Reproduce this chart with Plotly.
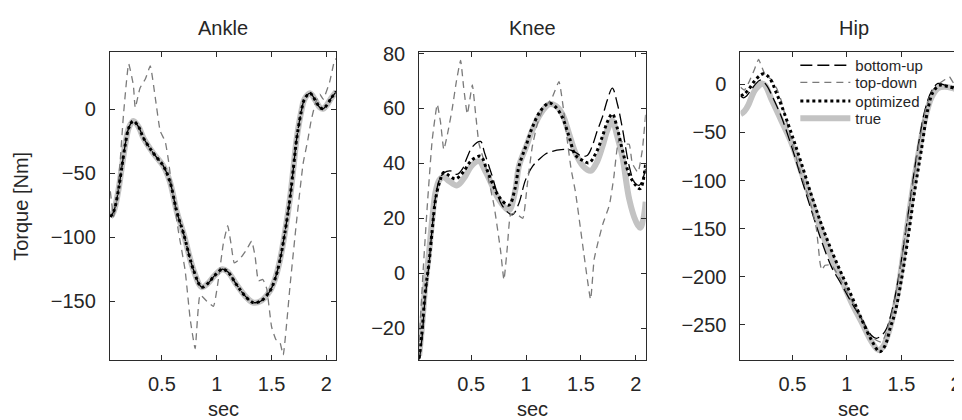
import plotly.graph_objects as go

# ---------------- data ----------------
panel_titles = ["Ankle", "Knee", "Hip"]
x_ticks = [0.5, 1, 1.5, 2]
ankle_yticks = [-150, -100, -50, 0]
knee_yticks = [-20, 0, 20, 40, 60, 80]
hip_yticks = [-250, -200, -150, -100, -50, 0]
legend_names = ["bottom-up", "top-down", "optimized", "true"]

# Ankle
ankle_true_t = [0.03, 0.06, 0.10, 0.13, 0.167, 0.20, 0.24, 0.29, 0.33, 0.42, 0.515, 0.575, 0.636, 0.697,
                0.79, 0.864, 0.92, 0.98, 1.05, 1.10, 1.18, 1.26, 1.33, 1.40, 1.485, 1.53, 1.576, 1.62,
                1.667, 1.70, 1.727, 1.77, 1.80, 1.85, 1.90, 1.94, 1.97, 2.00, 2.045, 2.09]
ankle_true_v = [-84, -80, -65, -48, -27, -14, -9, -14, -22, -34, -44.5, -57, -80, -97,
                -126, -139, -136, -130, -125, -127, -137, -146, -151, -150, -142, -133, -118, -97,
                -70, -45, -24, -2, 8, 12.7, 7, 1.5, 0.5, 3, 9, 14]
ankle_opt_t = list(ankle_true_t)
ankle_opt_v = [-84, -80, -65, -48, -27, -14, -9, -14, -22, -34, -44.5, -57, -80, -97,
               -126, -139, -136, -130, -125, -127, -137, -146, -151, -150, -142, -133, -118, -97,
               -70, -45, -24, -2, 8, 12.7, 7, 1.5, 0.5, 3, 9, 14]
ankle_bu_t = list(ankle_true_t)
ankle_bu_v = [-84, -80, -65, -48, -27, -14, -9, -14, -22, -34, -44.5, -57, -80, -97,
              -126, -139, -136, -130, -125, -127, -137, -146, -151, -150, -142, -133, -118, -97,
              -70, -45, -24, -2, 8, 12.7, 7, 1.5, 0.5, 3, 9, 14]
ankle_td_t = [0.03, 0.06, 0.09, 0.12, 0.15, 0.197, 0.24, 0.257, 0.30, 0.35, 0.394, 0.44, 0.485, 0.53,
              0.56, 0.59, 0.65, 0.712, 0.758, 0.803, 0.848, 0.91, 0.97, 1.02, 1.06, 1.10, 1.13, 1.16,
              1.21, 1.27, 1.318, 1.35, 1.38, 1.42, 1.455, 1.50, 1.54, 1.575, 1.606, 1.64, 1.667, 1.727,
              1.788, 1.83, 1.86, 1.90, 1.94, 1.97, 2.03, 2.07, 2.09]
ankle_td_v = [-64, -84, -70, -40, -4, 35.6, 19, 1.3, 16.6, 24, 34, 9, -17, -25,
              -40, -60, -95, -126, -164, -187, -145, -150, -154, -130, -105, -91, -105, -120,
              -117, -110, -103, -115, -134, -133, -140, -170, -180, -182, -192, -165, -139, -88,
              -42, -24, -9, 5, 12, 8, 21.7, 37, 40]

# Knee
knee_true_t = [0.025, 0.05, 0.08, 0.114, 0.145, 0.175, 0.21, 0.25, 0.30, 0.372, 0.44, 0.50, 0.57, 0.63,
               0.69, 0.75, 0.843, 0.90, 0.935, 1.00, 1.056, 1.13, 1.208, 1.27, 1.33, 1.39, 1.45, 1.52,
               1.588, 1.64, 1.695, 1.74, 1.786, 1.83, 1.877, 1.94, 2.00, 2.04, 2.07, 2.09]
knee_true_v = [-30, -20, -5, 7, 20, 29.6, 34, 35, 33.5, 32, 35, 39, 40.8, 37,
               32, 27, 23, 30, 39, 46, 52, 58, 61.5, 61, 58, 51, 43.8, 39,
               37.3, 40, 46, 52, 55.6, 50, 42.6, 27, 19, 16.6, 20, 26]
knee_opt_t = [0.025, 0.05, 0.08, 0.114, 0.145, 0.175, 0.21, 0.25, 0.30, 0.357, 0.43, 0.50, 0.585, 0.64,
              0.69, 0.75, 0.843, 0.90, 0.935, 1.00, 1.056, 1.13, 1.21, 1.27, 1.33, 1.39, 1.45, 1.52,
              1.573, 1.64, 1.695, 1.74, 1.786, 1.83, 1.877, 1.94, 2.00, 2.04, 2.09]
knee_opt_v = [-31, -22, -7, 3.5, 16, 27, 33, 36.7, 35.5, 34.3, 37, 41, 42.6, 38,
              33, 28, 24.8, 31, 39, 46.5, 53, 59, 62, 60.5, 56.8, 50, 43, 41,
              40.2, 44, 49.7, 55, 58, 53, 45, 36, 32, 30.8, 40]
knee_bu_t = [0.025, 0.05, 0.08, 0.114, 0.145, 0.175, 0.21, 0.25, 0.31, 0.37, 0.42, 0.46, 0.51, 0.585,
             0.62, 0.69, 0.78, 0.874, 0.93, 0.995, 1.06, 1.117, 1.18, 1.24, 1.32, 1.39, 1.45, 1.51,
             1.56, 1.60, 1.65, 1.695, 1.74, 1.786, 1.83, 1.877, 1.94, 1.99, 2.03, 2.06, 2.09]
knee_bu_v = [-32, -24, -9, 3, 17, 28, 34, 36.5, 37.3, 36, 38, 42, 46, 48,
             44, 35.5, 24.8, 21.3, 25, 34, 39, 41.4, 43.5, 44.4, 45, 45, 44, 42.6,
             43, 46, 52, 56.8, 63, 67.4, 62, 53, 39, 33, 32, 34, 38]
knee_td_t = [0.025, 0.06, 0.10, 0.144, 0.19, 0.22, 0.25, 0.29, 0.327, 0.365, 0.403, 0.43, 0.464, 0.51,
             0.54, 0.57, 0.63, 0.707, 0.767, 0.798, 0.83, 0.858, 0.90, 0.97, 1.01, 1.056, 1.10, 1.147,
             1.238, 1.30, 1.34, 1.375, 1.41, 1.45, 1.527, 1.588, 1.62, 1.652, 1.70, 1.76, 1.80, 1.846,
             1.907, 1.94, 1.968, 2.02, 2.06, 2.09]
knee_td_v = [-25, 0, 25, 48.5, 61.5, 55, 45, 52, 60, 70, 77.5, 68, 58, 68.6,
             58, 47.3, 39, 24.8, 8.3, -2.4, 10, 21.3, 22, 20, 32, 46, 54, 59,
             64, 69.8, 60, 48.5, 38, 29.6, 7, -9.5, 5, 10.7, 18, 24.9, 35, 48.5,
             47, 47, 40, 36.7, 45, 58]

# Hip
hip_true_t = [0.025, 0.06, 0.098, 0.13, 0.159, 0.20, 0.22, 0.25, 0.31, 0.40, 0.494, 0.585, 0.677, 0.768,
              0.86, 0.951, 1.043, 1.134, 1.226, 1.287, 1.33, 1.37, 1.409, 1.47, 1.53, 1.59, 1.652, 1.713,
              1.774, 1.835, 1.896, 1.97, 2.04]
hip_true_v = [-31, -28, -21, -12, -5.7, -0.7, 1, -1, -16, -38, -61.5, -92, -122, -153,
              -180, -203, -227, -247, -267.5, -276, -273, -262, -247, -213.5, -166, -119, -75, -38,
              -14, -4, -2.4, -4, -7]
hip_opt_t = [0.025, 0.06, 0.10, 0.15, 0.20, 0.235, 0.27, 0.31, 0.35, 0.40, 0.494, 0.585, 0.677, 0.768,
             0.86, 0.951, 1.043, 1.134, 1.226, 1.30, 1.348, 1.40, 1.44, 1.50, 1.56, 1.62, 1.683, 1.744,
             1.79, 1.85, 1.93, 2.04]
hip_opt_v = [-12, -10, -5, 3, 9, 11, 9, 3, -8, -22, -52, -83, -116, -146,
             -173, -197, -220, -244, -266, -278, -272, -252, -238, -203, -160, -112, -68, -25,
             -8, -1, -2.4, -5.7]
hip_bu_t = [0.025, 0.05, 0.08, 0.12, 0.16, 0.204, 0.235, 0.27, 0.31, 0.40, 0.494, 0.585, 0.677, 0.768,
            0.86, 0.951, 1.043, 1.134, 1.226, 1.27, 1.348, 1.409, 1.47, 1.53, 1.59, 1.652, 1.713, 1.774,
            1.835, 1.896, 2.04]
hip_bu_v = [-12, -14, -12, -6, 0, 4.4, 2.7, -2, -11, -34, -65, -98.6, -132, -163,
            -190, -208, -227, -244, -261, -264, -257, -237, -203, -159.5, -112, -65, -28, -7.4,
            1, -0.7, -4]
hip_td_t = [0.025, 0.06, 0.10, 0.15, 0.19, 0.22, 0.25, 0.31, 0.36, 0.40, 0.494, 0.585, 0.677, 0.72,
            0.753, 0.768, 0.80, 0.86, 0.951, 1.043, 1.134, 1.20, 1.27, 1.32, 1.348, 1.409, 1.47, 1.53,
            1.59, 1.652, 1.713, 1.774, 1.835, 1.90, 1.94, 1.98, 2.04]
hip_td_v = [-3, -6, 2, 15, 26, 18, 10, 5, -5, -17.6, -60, -95, -128, -150,
            -185, -193, -188, -188, -205, -225, -244, -260, -266, -268, -262, -240, -205, -160,
            -115, -68, -30, -8, 0, 5, 8, 1, 0]

ankle_xrange = [0.025, 2.09]
knee_xrange = [0.025, 2.09]
hip_xrange = [0.024, 2.037]
ankle_yrange = [-195.6, 44.8]
knee_yrange = [-31.4, 80.5]
hip_yrange = [-286, 33.5]

# ---------------- styling ----------------
# The page body adds an 8px margin, so the figure is drawn 8px smaller and every
# position below is given in page pixels and converted.
OX, OY = 8, 8
W, H = 962 - OX, 420 - OY


def px(x):
    return (x - OX) / W


def py(y):
    return 1 - (y - OY) / H


FONT = "Liberation Sans, Arial, Helvetica, sans-serif"
TXT = "#262626"
AX = "#2b2b2b"
dom_x = [[px(110), px(337)], [px(420), px(647)], [px(742), 1.0]]
centers_x = [px(223.5), px(533.5), px(855.5)]
dom_y = [py(358), py(43)]

styles = {
    "true": dict(color="#c3c3c3", width=6, dash="solid"),
    "bottom-up": dict(color="#000000", width=1.3, dash="12px,5px"),
    "top-down": dict(color="#7a7a7a", width=1.3, dash="7px,5px"),
    "optimized": dict(color="#000000", width=3, dash="3px,3px"),
}
legend_of = {"bottom-up": "legend", "top-down": "legend2", "optimized": "legend3", "true": "legend4"}
legend_y = {"bottom-up": 56.7, "top-down": 74.3, "optimized": 93.3, "true": 111}
smooth = {"true": 1.0, "bottom-up": 1.0, "optimized": 1.0, "top-down": 0.4}

panels = [
    dict(series={"true": (ankle_true_t, ankle_true_v), "bottom-up": (ankle_bu_t, ankle_bu_v),
                 "top-down": (ankle_td_t, ankle_td_v), "optimized": (ankle_opt_t, ankle_opt_v)},
         xr=ankle_xrange, yr=ankle_yrange, yt=ankle_yticks),
    dict(series={"true": (knee_true_t, knee_true_v), "bottom-up": (knee_bu_t, knee_bu_v),
                 "top-down": (knee_td_t, knee_td_v), "optimized": (knee_opt_t, knee_opt_v)},
         xr=knee_xrange, yr=knee_yrange, yt=knee_yticks),
    dict(series={"true": (hip_true_t, hip_true_v), "bottom-up": (hip_bu_t, hip_bu_v),
                 "top-down": (hip_td_t, hip_td_v), "optimized": (hip_opt_t, hip_opt_v)},
         xr=hip_xrange, yr=hip_yrange, yt=hip_yticks),
]

fig = go.Figure()
layout = dict(
    width=W, height=H, margin=dict(l=0, r=0, t=0, b=0),
    paper_bgcolor="white", plot_bgcolor="white",
    font=dict(family=FONT, size=20, color=TXT),
    showlegend=True,
)
for name in legend_names:
    layout[legend_of[name]] = dict(
        x=px(797), y=py(legend_y[name]), xanchor="left", yanchor="middle",
        bgcolor="rgba(0,0,0,0)", borderwidth=0, itemwidth=50,
        font=dict(family=FONT, size=15, color=TXT))

annotations = []
for i, p in enumerate(panels):
    xa = "x" if i == 0 else f"x{i+1}"
    ya = "y" if i == 0 else f"y{i+1}"
    for name in ["true", "bottom-up", "top-down", "optimized"]:
        t, v = p["series"][name]
        st = styles[name]
        fig.add_trace(go.Scatter(
            x=t, y=v, mode="lines", name=name, xaxis=xa, yaxis=ya,
            line=dict(color=st["color"], width=st["width"], dash=st["dash"],
                      shape="spline", smoothing=smooth[name]),
            showlegend=(i == 2), legend=legend_of[name], hoverinfo="skip"))
    common = dict(showgrid=False, zeroline=False, showline=True, linecolor=AX, linewidth=1,
                  ticks="inside", ticklen=5, tickcolor=AX, tickwidth=1,
                  ticklabeloverflow="allow",
                  tickfont=dict(family=FONT, size=20, color=TXT))
    layout["xaxis" if i == 0 else f"xaxis{i+1}"] = dict(
        domain=dom_x[i], range=p["xr"], anchor=ya, tickvals=x_ticks,
        ticktext=[f"{v:g}" for v in x_ticks], mirror="ticks", ticklabelstandoff=6, **common)
    layout["yaxis" if i == 0 else f"yaxis{i+1}"] = dict(
        domain=dom_y, range=p["yr"], anchor=xa, tickvals=p["yt"],
        ticktext=[f"{v:g}".replace("-", "\u2212") for v in p["yt"]],
        mirror=("ticks" if i < 2 else False), ticklabelstandoff=9, **common)
    annotations.append(dict(text=panel_titles[i], x=centers_x[i], y=py(18.3), xref="paper", yref="paper",
                            xanchor="center", yanchor="middle", showarrow=False,
                            font=dict(family=FONT, size=20, color=TXT)))
    annotations.append(dict(text="sec", x=centers_x[i], y=py(408.5), xref="paper", yref="paper",
                            xanchor="center", yanchor="middle", showarrow=False,
                            font=dict(family=FONT, size=20, color=TXT)))
annotations.append(dict(text="Torque [Nm]", x=px(21), y=py(200.5), xref="paper", yref="paper",
                        xanchor="center", yanchor="middle", textangle=-90, showarrow=False,
                        font=dict(family=FONT, size=20, color=TXT)))
layout["annotations"] = annotations
fig.update_layout(**layout)
fig.write_html("out.html")
